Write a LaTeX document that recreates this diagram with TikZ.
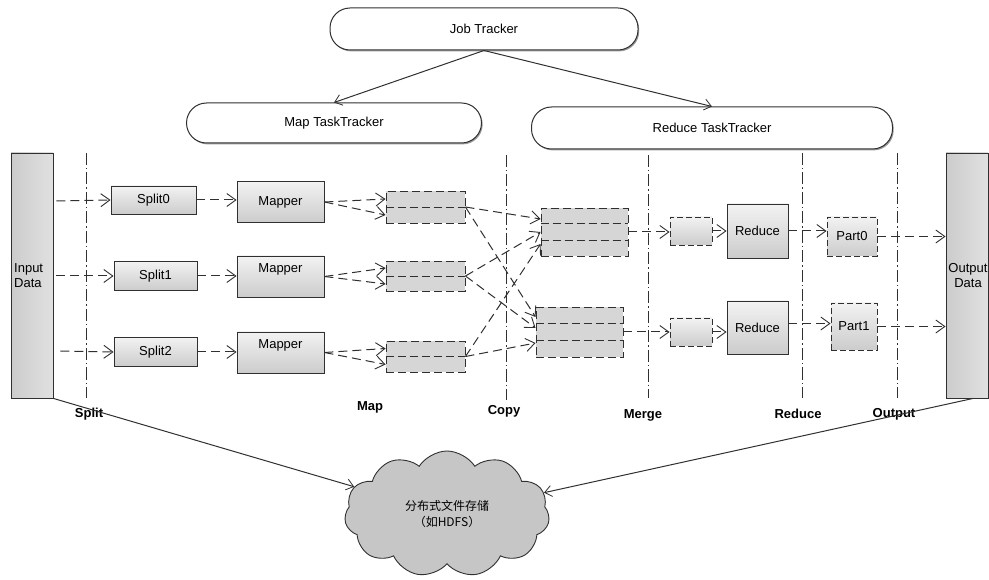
\documentclass[tikz,border=0pt]{standalone}
\usepackage{fontspec}
\setmainfont{Liberation Sans}
\newfontfamily\cjk{Noto Sans CJK SC}
\usetikzlibrary{arrows.meta,shapes.symbols,shadows,calc}
\definecolor{ln}{HTML}{303030}
\tikzset{
  base/.style={font=\fontsize{13}{15}\selectfont, inner sep=0pt, align=center},
  tracker/.style={base, draw=ln, line width=1pt, fill=white, rounded corners=20pt,
     drop shadow={shadow xshift=1.2pt, shadow yshift=-1.4pt, fill=black!50, opacity=0.8}},
  gbox/.style={base, draw=ln, line width=0.9pt, top color=gray!10, bottom color=gray!40},
  dbox/.style={gbox, dash pattern=on 6pt off 3pt},
  buf/.style={base, draw=ln, line width=0.9pt, fill=gray!32, dash pattern=on 8pt off 4pt},
  datab/.style={base, draw=ln, line width=0.9pt, left color=gray!40, right color=gray!24},
  flow/.style={draw=ln, line width=1pt, dash pattern=on 9pt off 5pt,
     -{Straight Barb[length=9pt,width=13pt,line width=0.9pt]}},
  ctl/.style={draw=ln, line width=1pt, -{Straight Barb[length=7pt,width=11pt,line width=0.8pt]}},
  stage/.style={draw=ln, line width=0.8pt, dash pattern=on 12pt off 3pt on 1.5pt off 3pt},
  lab/.style={font=\fontsize{13}{15}\selectfont\bfseries, inner sep=0pt},
}
\begin{document}
\begin{tikzpicture}[x=1pt,y=-1pt]
\useasboundingbox (0,0) rectangle (989,580);

% trackers
\node[tracker, minimum width=308pt, minimum height=42pt] (jt) at (484,29) {Job Tracker};
\node[tracker, minimum width=295pt, minimum height=40pt] (mtt) at (334,123) {Map TaskTracker};
\node[tracker, minimum width=361pt, minimum height=42pt] (rtt) at (712,128) {Reduce TaskTracker};
\draw[ctl] (jt.south) -- (mtt.north);
\draw[ctl] (jt.south) -- (rtt.north);

% stage separators
\draw[stage] (86,153) -- (86,398);
\draw[stage] (506,155) -- (506,400);
\draw[stage] (648,155) -- (648,398);
\draw[stage] (802,153) -- (802,398);
\draw[stage] (897,153) -- (897,398);

% input / output data
\node[datab, minimum width=42pt, minimum height=245pt] (in) at (32,275.5) {};
\node[base, anchor=west, align=left] (intext) at (14,276) {Input\\Data};
\node[datab, minimum width=42pt, minimum height=245pt] (out) at (967,275.5) {};
\node[base] (outtext) at (968,276) {Output\\Data};

% splits
\node[gbox, minimum width=85pt, minimum height=28pt] (s0) at (153.5,200) {Split0};
\node[gbox, minimum width=83pt, minimum height=29pt] (s1) at (155.5,276) {Split1};
\node[gbox, minimum width=83pt, minimum height=29pt] (s2) at (155.5,352) {Split2};

% mappers
\node[gbox, minimum width=87pt, minimum height=41pt] (m0) at (280.5,202) {Mapper};
\node[gbox, minimum width=87pt, minimum height=41pt] (m1) at (280.5,276.5) {};
\node[base] (m1t) at (280.5,269) {Mapper};
\node[gbox, minimum width=87pt, minimum height=41pt] (m2) at (280.5,352.5) {};
\node[base] (m2t) at (280.5,345) {Mapper};

% map output buffers
\node[buf, minimum width=79pt, minimum height=32pt] (b0) at (425.5,207) {};
\node[buf, minimum width=79pt, minimum height=30pt] (b1) at (425.5,276) {};
\node[buf, minimum width=79pt, minimum height=31pt] (b2) at (425.5,356.5) {};
\foreach \b in {b0,b1,b2}{
  \draw[ln, line width=0.9pt, dash pattern=on 8pt off 4pt] (\b.west) -- (\b.east);
}

% merge buffers
\node[buf, minimum width=87pt, minimum height=48pt] (ma) at (584.5,232) {};
\node[buf, minimum width=87pt, minimum height=50pt] (mb) at (579.5,332) {};
\foreach \b in {ma,mb}{
  \draw[ln, line width=0.9pt, dash pattern=on 8pt off 4pt]
    ($(\b.north west)!1/3!(\b.south west)$) -- ($(\b.north east)!1/3!(\b.south east)$);
  \draw[ln, line width=0.9pt, dash pattern=on 8pt off 4pt]
    ($(\b.north west)!2/3!(\b.south west)$) -- ($(\b.north east)!2/3!(\b.south east)$);
}

% small merge boxes
\node[dbox, minimum width=42pt, minimum height=28pt] (sm0) at (691,231) {};
\node[dbox, minimum width=42pt, minimum height=28pt] (sm1) at (691,332) {};

% reducers
\node[gbox, minimum width=61pt, minimum height=54pt] (r0) at (757.5,231) {Reduce};
\node[gbox, minimum width=61pt, minimum height=53pt] (r1) at (757.5,327.5) {Reduce};

% parts
\node[dbox, minimum width=50pt, minimum height=39pt] (p0) at (852,236.5) {Part0};
\node[dbox, minimum width=46pt, minimum height=47pt] (p1) at (854,326.5) {Part1};

% flows: input -> split -> mapper
\draw[flow] ($(in.east |- s0.west)+(3,1)$) -- (s0.west);
\draw[flow] ($(in.east |- s1.west)+(3,0)$) -- (s1.west);
\draw[flow] ($(in.east |- s2.west)+(7,-1)$) -- (s2.west);
\draw[flow] (s0.east) -- (s0.east -| m0.west);
\draw[flow] (s1.east) -- (s1.east -| m1.west);
\draw[flow] (s2.east) -- (s2.east -| m2.west);

% mapper -> buffers
\foreach \m/\b in {m0/b0,m1/b1,m2/b2}{
  \draw[flow] (\m.east) -- ($(\b.west)+(0,-8)$);
  \draw[flow] (\m.east) -- ($(\b.west)+(0,8)$);
}

% copy (shuffle)
\draw[flow] (b0.east) -- ($(ma.west)+(0,-13)$);
\draw[flow] (b0.east) -- ($(mb.west)+(0,-15)$);
\draw[flow] (b1.east) -- ($(ma.west)+(0,0)$);
\draw[flow] (b1.east) -- ($(mb.west)+(0,-4)$);
\draw[flow] (b2.east) -- ($(ma.west)+(0,12)$);
\draw[flow] (b2.east) -- ($(mb.west)+(0,11)$);

% merge -> reduce -> part -> output
\draw[flow] (ma.east) -- (ma.east -| sm0.west);
\draw[flow] (mb.east) -- (mb.east -| sm1.west);
\draw[flow] (sm0.east) -- (sm0.east -| r0.west);
\draw[flow] (sm1.east) -- (sm1.east -| r1.west);
\draw[flow] (r0.east) -- (r0.east -| p0.west);
\draw[flow] ($(r1.east)+(0,-4)$) -- ($(r1.east -| p1.west)+(0,-4)$);
\draw[flow] (p0.east) -- (p0.east -| out.west);
\draw[flow] (p1.east) -- (p1.east -| out.west);

% stage labels
\node[lab] (lsplit) at (89,414) {Split};
\node[lab] (lmap) at (370,407) {Map};
\node[lab] (lcopy) at (504,411) {Copy};
\node[lab] (lmerge) at (643,415) {Merge};
\node[lab] (lreduce) at (798,414) {Reduce};
\node[lab] (loutput) at (894,414) {Output};

% distributed storage
\node[cloud, cloud puffs=11, cloud puff arc=115, cloud ignores aspect, draw=ln, line width=0.9pt,
      fill=gray!45, minimum width=205pt, minimum height=126pt, inner sep=0pt,
      font=\cjk\fontsize{12}{16}\selectfont, align=center] (cl) at (447,514)
      {分布式文件存储\\（如HDFS）};
\draw[ctl] (in.south east) -- (cl);
\draw[ctl] ($(out.south)+(6,0)$) -- (cl);
\end{tikzpicture}
\end{document}
